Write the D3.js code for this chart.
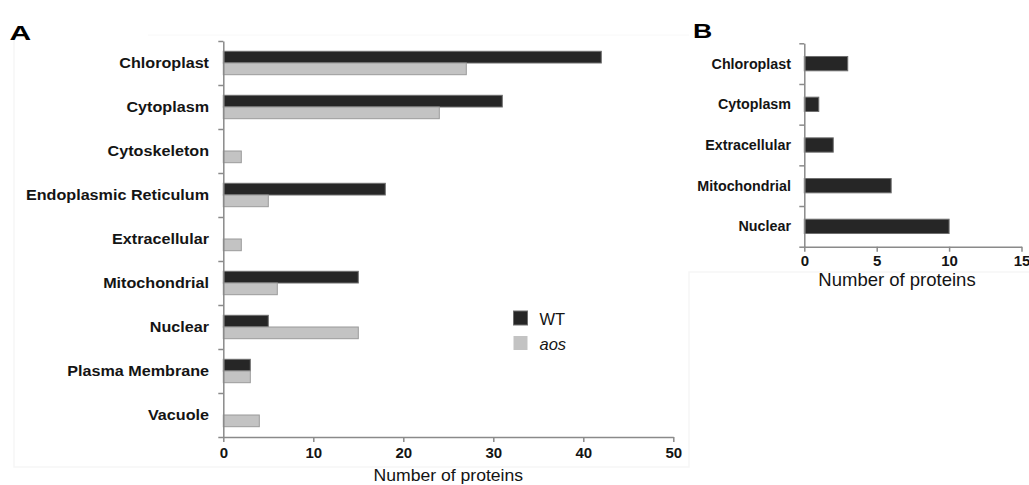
<!DOCTYPE html>
<html>
<head>
<meta charset="utf-8">
<script src="https://cdn.jsdelivr.net/npm/d3@7"></script>
<style>
  html, body { margin: 0; padding: 0; background: #ffffff; }
  svg { display: block; font-family: "Liberation Sans", Arial, sans-serif; }
</style>
</head>
<body>
<svg id="chart" width="1029" height="485"></svg>
<script>
// ---------- Data ----------
const categoriesA = ["Chloroplast", "Cytoplasm", "Cytoskeleton", "Endoplasmic Reticulum",
  "Extracellular", "Mitochondrial", "Nuclear", "Plasma Membrane", "Vacuole"];
const seriesNames = ["WT", "aos"];
const wtValues  = [42, 31, 0, 18, 0, 15, 5, 3, 0];
const aosValues = [27, 24, 2, 5, 2, 6, 15, 3, 4];
const ticksA = [0, 10, 20, 30, 40, 50];

const categoriesB = ["Chloroplast", "Cytoplasm", "Extracellular", "Mitochondrial", "Nuclear"];
const valuesB = [3, 1, 2, 6, 10];
const ticksB = [0, 5, 10, 15];

const axisTitle = "Number of proteins";

// ---------- Styles ----------
const axisColor = "#8a8a8a";
const colWT = "#262626", strokeWT = "#6e6e6e";
const colAos = "#c3c3c3", strokeAos = "#9a9a9a";
const textColor = "#141414";

const svg = d3.select("#chart");

// faint panel frames (as in reference)
svg.append("path")
  .attr("d", "M14,35 L14,467 L689,467 L689,272 L1029,272")
  .attr("fill", "none").attr("stroke", "#f6f6f6").attr("stroke-width", 1.5);
svg.append("path")
  .attr("d", "M148,35 L689,35")
  .attr("fill", "none").attr("stroke", "#f8f8f8").attr("stroke-width", 1);

// ---------- Panel A ----------
const xA = d3.scaleLinear().domain([0, 50]).range([223.3, 673.3]);
const yA = d3.scaleBand().domain(categoriesA).range([41, 437]).padding(0);
const groupH = 23.4;
const ySubA = d3.scaleBand().domain(seriesNames).range([0, groupH]).padding(0);
const yIdxA = d3.scaleLinear().domain([0, categoriesA.length]).range([41, 437]);

const gA = svg.append("g");

const rowsA = categoriesA.map((c, i) => ({ c, WT: wtValues[i], aos: aosValues[i] }));

rowsA.forEach(r => {
  const top = yA(r.c) + yA.bandwidth() / 2 - groupH / 2;
  seriesNames.forEach(s => {
    if (r[s] > 0) {
      gA.append("rect")
        .attr("x", xA(0))
        .attr("y", top + ySubA(s))
        .attr("width", xA(r[s]) - xA(0))
        .attr("height", ySubA.bandwidth())
        .attr("fill", s === "WT" ? colWT : colAos)
        .attr("stroke", s === "WT" ? strokeWT : strokeAos)
        .attr("stroke-width", 1);
    }
  });
});

// y axis A (ticks at category boundaries)
const yAxisA = gA.append("g")
  .attr("transform", `translate(${xA(0)},0)`)
  .call(d3.axisLeft(yIdxA).tickValues(d3.range(0, categoriesA.length + 1))
    .tickFormat("").tickSize(5).tickSizeOuter(0));
yAxisA.selectAll("path, line").attr("stroke", axisColor).attr("stroke-width", 1.5);

// category labels A
categoriesA.forEach(c => {
  gA.append("text")
    .attr("transform", `translate(209,${yA(c) + yA.bandwidth() / 2}) scale(1.13,1)`)
    .attr("text-anchor", "end")
    .attr("dominant-baseline", "central")
    .attr("font-size", 14.3).attr("font-weight", "bold").attr("fill", textColor)
    .text(c);
});

// x axis A
const xAxisA = gA.append("g")
  .attr("transform", "translate(0,437)")
  .call(d3.axisBottom(xA).tickValues(ticksA).tickSize(5).tickSizeOuter(0).tickPadding(5));
xAxisA.selectAll("path, line").attr("stroke", axisColor).attr("stroke-width", 1.5);
xAxisA.selectAll("text").attr("font-size", 15).attr("font-weight", "bold")
  .attr("fill", textColor).attr("font-family", "Liberation Sans, Arial, sans-serif");

gA.append("text")
  .attr("transform", `translate(${(xA(0) + xA(50)) / 2},476) scale(1.1,1)`)
  .attr("text-anchor", "middle").attr("dominant-baseline", "central")
  .attr("font-size", 16).attr("fill", textColor)
  .text(axisTitle);

// legend
const legendItems = [
  { name: "WT", fill: colWT, stroke: strokeWT, italic: false, y: 311 },
  { name: "aos", fill: colAos, stroke: "none", italic: true, y: 336 }
];
legendItems.forEach(l => {
  gA.append("rect").attr("x", 513.5).attr("y", l.y).attr("width", 14).attr("height", 14)
    .attr("fill", l.fill).attr("stroke", l.stroke).attr("stroke-width", 1);
  gA.append("text").attr("x", 539.5).attr("y", l.y + 7.5)
    .attr("dominant-baseline", "central")
    .attr("font-size", 16.5).attr("fill", textColor)
    .attr("font-style", l.italic ? "italic" : "normal")
    .text(l.name);
});

// panel letter A
svg.append("text")
  .attr("transform", "translate(9.5,39.5) scale(1.5,1)")
  .attr("font-size", 20).attr("font-weight", "bold").attr("fill", "#000")
  .text("A");

// ---------- Panel B ----------
const xB = d3.scaleLinear().domain([0, 15]).range([804.3, 1021.5]);
const yB = d3.scaleBand().domain(categoriesB).range([43.3, 246.7]).padding(0);
const yIdxB = d3.scaleLinear().domain([0, categoriesB.length]).range([43.3, 246.7]);
const barHB = 14.3;

const gB = svg.append("g");

categoriesB.forEach((c, i) => {
  gB.append("rect")
    .attr("x", xB(0))
    .attr("y", yB(c) + yB.bandwidth() / 2 - barHB / 2)
    .attr("width", xB(valuesB[i]) - xB(0))
    .attr("height", barHB)
    .attr("fill", colWT).attr("stroke", strokeWT).attr("stroke-width", 1);
});

const yAxisB = gB.append("g")
  .attr("transform", `translate(${xB(0)},0)`)
  .call(d3.axisLeft(yIdxB).tickValues(d3.range(0, categoriesB.length + 1))
    .tickFormat("").tickSize(5).tickSizeOuter(0));
yAxisB.selectAll("path, line").attr("stroke", axisColor).attr("stroke-width", 1.5);

categoriesB.forEach(c => {
  gB.append("text")
    .attr("x", 791).attr("y", yB(c) + yB.bandwidth() / 2)
    .attr("text-anchor", "end").attr("dominant-baseline", "central")
    .attr("font-size", 14.3).attr("font-weight", "bold").attr("fill", textColor)
    .text(c);
});

const xAxisB = gB.append("g")
  .attr("transform", "translate(0,246.7)")
  .call(d3.axisBottom(xB).tickValues(ticksB).tickSize(5).tickSizeOuter(0).tickPadding(4));
xAxisB.selectAll("path, line").attr("stroke", axisColor).attr("stroke-width", 1.5);
xAxisB.selectAll("text").attr("font-size", 15).attr("font-weight", "bold")
  .attr("fill", textColor).attr("font-family", "Liberation Sans, Arial, sans-serif");

gB.append("text")
  .attr("x", 897).attr("y", 279)
  .attr("text-anchor", "middle").attr("dominant-baseline", "central")
  .attr("font-size", 18.5).attr("fill", textColor)
  .text(axisTitle);

svg.append("text")
  .attr("transform", "translate(693,37.5) scale(1.3,1)")
  .attr("font-size", 20.5).attr("font-weight", "bold").attr("fill", "#000")
  .text("B");
</script>
</body>
</html>
